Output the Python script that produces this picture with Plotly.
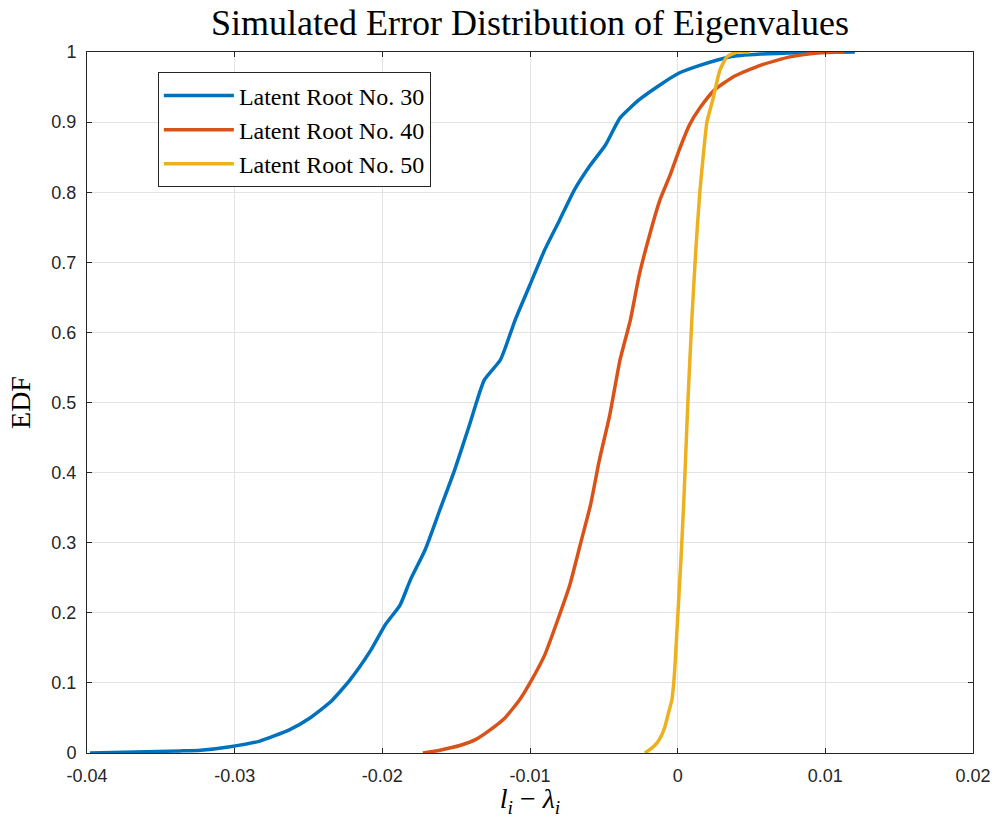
import plotly.graph_objects as go

# Empirical distribution functions of eigenvalue estimation errors
err_30 = [-0.0398, -0.0337, -0.0323, -0.0303, -0.0283, -0.0263, -0.0249, -0.0235,
          -0.0222, -0.0208, -0.0198, -0.0188, -0.0181, -0.0171, -0.0161, -0.0151,
          -0.0141, -0.0131, -0.0120, -0.0110, -0.0100, -0.0090, -0.0080, -0.0070,
          -0.0059, -0.0049, -0.0039, -0.0026, -0.0012, 0.0001, 0.0015, 0.0035,
          0.0056, 0.0083, 0.0120]
edf_30 = [0.0, 0.003, 0.004, 0.009, 0.017, 0.033, 0.05, 0.073,
          0.104, 0.146, 0.183, 0.211, 0.247, 0.29, 0.347, 0.404,
          0.468, 0.532, 0.561, 0.618, 0.668, 0.718, 0.760, 0.803,
          0.839, 0.867, 0.906, 0.932, 0.953, 0.970, 0.981, 0.993,
          0.997, 0.999, 1.0]

err_40 = [-0.01725, -0.0161, -0.0147, -0.0137, -0.0127, -0.0117, -0.0107, -0.0100,
          -0.0090, -0.0080, -0.0073, -0.0066, -0.0059, -0.0053, -0.0046, -0.0039,
          -0.0032, -0.0026, -0.0019, -0.0012, -0.0005, 0.0001, 0.0008, 0.0015,
          0.0025, 0.0039, 0.0056, 0.0076, 0.0096, 0.0113]
edf_40 = [0.0, 0.004, 0.011, 0.019, 0.033, 0.05, 0.076, 0.1,
          0.14, 0.197, 0.24, 0.297, 0.354, 0.418, 0.482, 0.561,
          0.618, 0.682, 0.739, 0.789, 0.825, 0.860, 0.896, 0.920,
          0.946, 0.966, 0.981, 0.993, 0.999, 1.0]

err_50 = [-0.00222, -0.00175, -0.00141, -0.00107, -0.00087, -0.00066, -0.00039,
          -0.00025, -0.00012, 0.00002, 0.00022, 0.00042, 0.00069, 0.00096,
          0.00123, 0.00150, 0.00177, 0.00198, 0.00238, 0.00286, 0.00333,
          0.00401, 0.00489]
edf_50 = [0.0, 0.007, 0.014, 0.026, 0.037, 0.054, 0.076,
          0.104, 0.147, 0.2, 0.275, 0.361, 0.5, 0.618,
          0.718, 0.800, 0.860, 0.900, 0.932, 0.974, 0.993,
          1.0, 1.0]

x_ticks = [-0.04, -0.03, -0.02, -0.01, 0, 0.01, 0.02]
x_tick_text = ["-0.04", "-0.03", "-0.02", "-0.01", "0", "0.01", "0.02"]
y_ticks = [0, 0.1, 0.2, 0.3, 0.4, 0.5, 0.6, 0.7, 0.8, 0.9, 1]
y_tick_text = ["0", "0.1", "0.2", "0.3", "0.4", "0.5", "0.6", "0.7", "0.8", "0.9", "1"]

series = [
    ("Latent Root No. 30", err_30, edf_30, "#0072BD"),
    ("Latent Root No. 40", err_40, edf_40, "#D95319"),
    ("Latent Root No. 50", err_50, edf_50, "#EDB120"),
]

serif = "Liberation Serif, DejaVu Serif, serif"
sans = "Liberation Sans, Arial, sans-serif"

fig = go.Figure()
for name, xs, ys, color in series:
    fig.add_trace(go.Scatter(
        x=xs, y=ys, mode="lines", name=name,
        line=dict(color=color, width=3.5, shape="spline", smoothing=0.5),
    ))

axis_common = dict(
    showgrid=True, gridcolor="#E3E3E3", gridwidth=1,
    showline=True, linecolor="#262626", linewidth=1, mirror="ticks",
    ticks="inside", ticklen=5, tickcolor="#262626",
    tickfont=dict(family=sans, size=18, color="#262626"),
    ticklabelstandoff=6,
    zeroline=False,
    automargin=False,
)

fig.update_layout(
    width=995, height=818,
    paper_bgcolor="white", plot_bgcolor="white",
    margin=dict(l=87, r=22, t=52, b=65),
    title=dict(
        text="Simulated Error Distribution of Eigenvalues",
        font=dict(family=serif, size=36, color="black"),
        x=(87 + 443) / 995, xanchor="center", y=0.973, yanchor="middle",
    ),
    xaxis=dict(
        range=[-0.04, 0.02], tickvals=x_ticks, ticktext=x_tick_text,
        title=dict(text="<i>l</i><sub><i>i</i></sub> − <i>λ</i><sub><i>i</i></sub>",
                   font=dict(family=serif, size=28, color="black"), standoff=4),
        **axis_common,
    ),
    yaxis=dict(
        range=[0, 1], tickvals=y_ticks, ticktext=y_tick_text,
        title=dict(text="EDF", font=dict(family=serif, size=28, color="black"), standoff=12),
        **axis_common,
    ),
    legend=dict(
        x=0.080, y=0.971, xanchor="left", yanchor="top",
        bgcolor="white", bordercolor="#262626", borderwidth=1,
        font=dict(family=serif, size=24, color="black"),
        tracegroupgap=0, itemwidth=70,
    ),
)

fig.write_html("out.html")
